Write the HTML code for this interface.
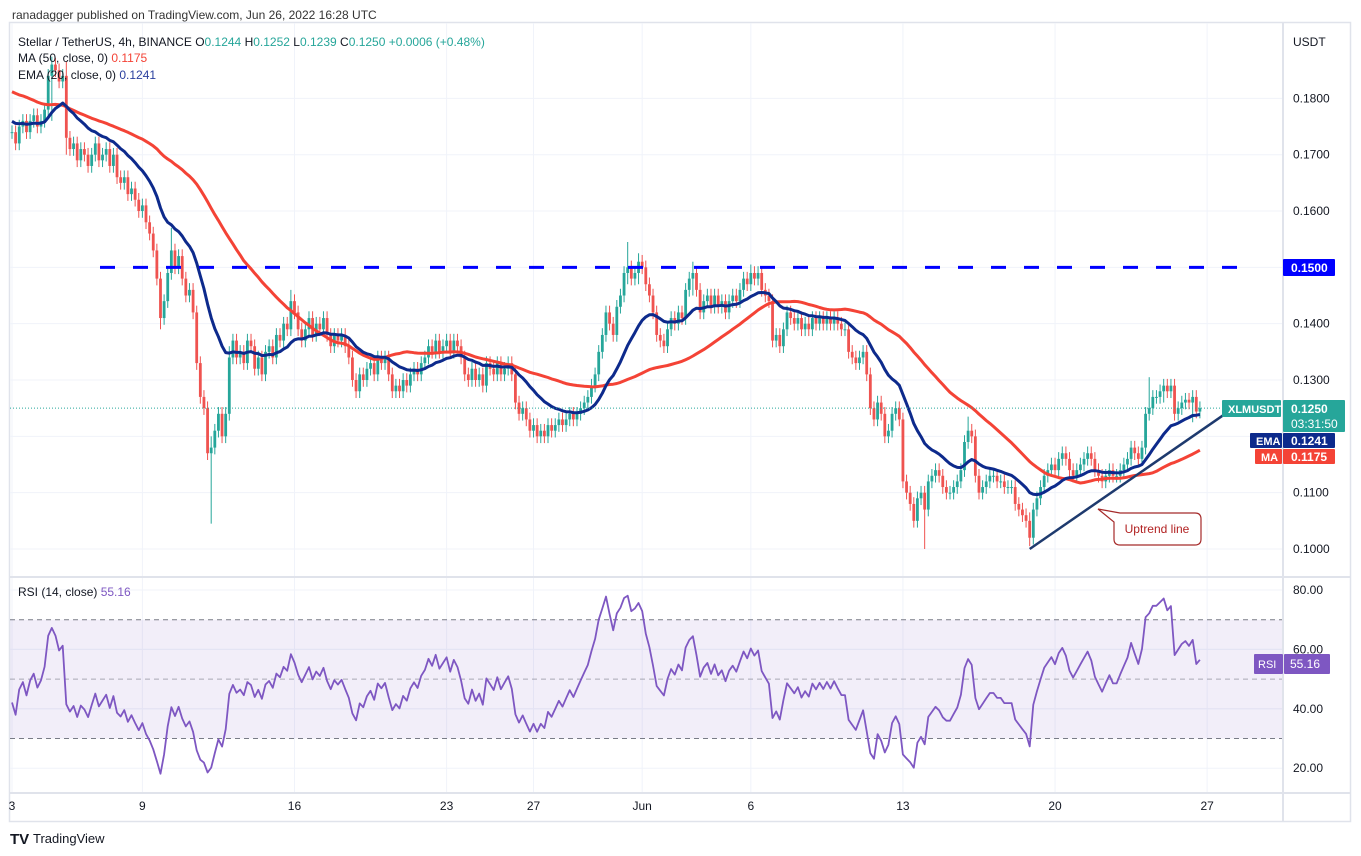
<!DOCTYPE html>
<html><head><meta charset="utf-8"><title>XLMUSDT 4h</title>
<style>
html,body{margin:0;padding:0;background:#fff;}
body{width:1361px;height:856px;overflow:hidden;font-family:"Liberation Sans",sans-serif;}
svg{display:block}
text{font-family:"Liberation Sans",sans-serif;}
</style></head>
<body>
<svg id="chart" width="1361" height="856" viewBox="0 0 1361 856" xmlns="http://www.w3.org/2000/svg">
  <text x="12" y="19" font-size="12" fill="#333">ranadagger published on TradingView.com, Jun 26, 2022 16:28 UTC</text>
  <rect x="9.5" y="22.5" width="1341" height="799" fill="none" stroke="#e0e3eb" stroke-width="1.5"/>
  <g id="grid"></g>
  <g id="rsiBand"></g>
  <g id="candles"></g>
  <g id="lines"></g>
  <g id="overlay"></g>
  <g id="axes"></g>
  <g font-size="12">
    <text x="18" y="46" fill="#131722">Stellar / TetherUS, 4h, BINANCE  <tspan fill="#131722">O</tspan><tspan fill="#26a69a">0.1244</tspan> <tspan fill="#131722">H</tspan><tspan fill="#26a69a">0.1252</tspan> <tspan fill="#131722">L</tspan><tspan fill="#26a69a">0.1239</tspan> <tspan fill="#131722">C</tspan><tspan fill="#26a69a">0.1250 +0.0006 (+0.48%)</tspan></text>
    <text x="18" y="62" fill="#131722">MA (50, close, 0) <tspan fill="#f44336">0.1175</tspan></text>
    <text x="18" y="79" fill="#131722">EMA (20, close, 0) <tspan fill="#2a3f9e">0.1241</tspan></text>
    <text x="18" y="596" fill="#131722">RSI (14, close) <tspan fill="#7e57c2">55.16</tspan></text>
  </g>
  <g>
    <text x="10" y="844" font-size="15" font-weight="bold" fill="#131722">TV</text>
    <text x="33" y="843" font-size="13" fill="#131722">TradingView</text>
  </g>
</svg>
<script>
const preCloses = [0.186,0.188,0.185,0.187,0.190,0.189,0.191,0.188,0.186,0.187,0.185,0.184,0.186,0.188,0.187,0.189,0.186,0.184,0.185,0.183,0.182,0.184,0.183,0.181,0.180,0.182,0.183,0.181,0.179,0.180,0.178,0.177,0.179,0.178,0.176,0.175,0.177,0.176,0.174,0.175,0.176,0.174,0.173,0.175,0.176,0.174,0.173,0.175,0.174];
const closes = [
0.174,0.172,0.175,0.176,0.174,0.176,0.177,0.175,0.176,0.178,0.184,0.186,0.185,0.183,0.184,0.173,0.171,0.172,0.169,0.171,
0.170,0.168,0.170,0.172,0.169,0.170,0.171,0.168,0.170,0.166,0.165,0.166,0.163,0.164,0.162,0.160,0.161,0.158,0.156,0.153,
0.148,0.141,0.144,0.149,0.153,0.150,0.152,0.148,0.145,0.146,0.142,0.133,0.127,0.125,0.117,0.118,0.121,0.124,0.120,0.124,
0.134,0.137,0.134,0.135,0.133,0.137,0.136,0.132,0.134,0.131,0.135,0.136,0.134,0.138,0.137,0.140,0.139,0.144,0.142,0.139,
0.137,0.139,0.141,0.138,0.140,0.139,0.141,0.138,0.136,0.138,0.137,0.138,0.136,0.134,0.130,0.128,0.131,0.130,0.132,0.133,
0.131,0.134,0.133,0.134,0.131,0.128,0.129,0.128,0.130,0.129,0.131,0.132,0.131,0.133,0.134,0.136,0.135,0.137,0.135,0.136,
0.137,0.135,0.137,0.136,0.134,0.131,0.130,0.132,0.130,0.131,0.129,0.133,0.132,0.131,0.133,0.131,0.132,0.133,0.131,0.126,
0.124,0.125,0.123,0.121,0.122,0.120,0.121,0.120,0.122,0.121,0.122,0.123,0.122,0.123,0.124,0.123,0.124,0.125,0.126,0.127,
0.129,0.131,0.135,0.138,0.142,0.140,0.138,0.143,0.145,0.149,0.150,0.148,0.149,0.151,0.150,0.147,0.145,0.142,0.138,0.137,
0.136,0.139,0.141,0.140,0.142,0.141,0.146,0.148,0.149,0.146,0.142,0.144,0.145,0.143,0.145,0.143,0.144,0.142,0.144,0.145,
0.144,0.146,0.148,0.147,0.149,0.148,0.149,0.146,0.145,0.144,0.137,0.138,0.136,0.139,0.142,0.141,0.140,0.141,0.139,0.140,
0.139,0.141,0.140,0.141,0.140,0.141,0.140,0.141,0.140,0.139,0.139,0.135,0.134,0.133,0.134,0.135,0.131,0.125,0.123,0.126,
0.124,0.120,0.121,0.124,0.125,0.123,0.112,0.110,0.108,0.105,0.109,0.110,0.107,0.112,0.113,0.114,0.113,0.111,0.110,0.110,
0.111,0.112,0.114,0.119,0.121,0.120,0.113,0.110,0.111,0.112,0.113,0.113,0.112,0.112,0.111,0.111,0.111,0.108,0.107,0.106,
0.105,0.102,0.107,0.109,0.111,0.113,0.114,0.115,0.114,0.116,0.117,0.116,0.114,0.113,0.114,0.115,0.116,0.117,0.116,0.114,
0.113,0.112,0.113,0.114,0.113,0.113,0.114,0.115,0.116,0.118,0.117,0.116,0.118,0.124,0.125,0.127,0.127,0.128,0.129,0.128,
0.129,0.124,0.125,0.126,0.1265,0.126,0.127,0.1244,0.125];
// notable wick extremes: candle index, high, low
const wickIdx  = [11,     15,     44,     41,     55,     60,     77,     170,    173,    188,    204,    252,    264,    281,    314,    318,    326];
const wickHigh = [0.1874, 0.1865, 0.1570, 0.1460, 0.1200, 0.1360, 0.1460, 0.1545, 0.1525, 0.1510, 0.1505, 0.1090, 0.1235, 0.1065, 0.1305, 0.1300, 0.1280];
const wickLow  = [0.1760, 0.1700, 0.1480, 0.1390, 0.1045, 0.1230, 0.1400, 0.1470, 0.1470, 0.1450, 0.1460, 0.1000, 0.1180, 0.1005, 0.1230, 0.1260, 0.1225];
const priceTicks = [0.10,0.11,0.12,0.13,0.14,0.15,0.16,0.17,0.18];
const priceTickLabels = ["0.1000","0.1100","0.1200","0.1300","0.1400","0.1500","0.1600","0.1700","0.1800"];
const rsiTicks = [20,40,60,80];
const rsiTickLabels = ["20.00","40.00","60.00","80.00"];
const dateOffsets = [0,6,13,20,24,29,34,41,48,55];
const dateLabels = ["3","9","16","23","27","Jun","6","13","20","27"];
const resistance = 0.15;
const trendStart = [281, 0.1000];
const trendEnd = [335, 0.1240];

const NS = "http://www.w3.org/2000/svg";
const X0 = 12, DAY = 21.73, CW = DAY/6;
const PL = 10, PR = 1283;
const xi = i => X0 + i*CW;
const xd = d => X0 + d*DAY;
const yp = p => 549 - (p-0.10)*5633;
const yr = r => 590 + (80-r)*2.97;
function mk(tag, attrs, parent){const e=document.createElementNS(NS,tag);for(const k in attrs)e.setAttribute(k,attrs[k]);parent.appendChild(e);return e;}

const grid=document.getElementById('grid');
priceTicks.forEach(p=>{const l=mk('line',{x1:PL,x2:PR,y1:yp(p),y2:yp(p),stroke:'#f0f3fa','stroke-width':1},grid);

});
rsiTicks.concat([60,40]).forEach(r=>{const l=mk('line',{x1:PL,x2:PR,y1:yr(r),y2:yr(r),stroke:'#f0f3fa','stroke-width':1},grid);

});
dateOffsets.forEach(d=>{const l=mk('line',{x1:xd(d),x2:xd(d),y1:23,y2:793,stroke:'#f0f3fa','stroke-width':1},grid);

});

const axes=document.getElementById('axes');
[[PL,577,1350,577],[PL,793,1350,793],[PR,23,PR,822]].forEach(s=>{const l=mk('line',{x1:s[0],y1:s[1],x2:s[2],y2:s[3],stroke:'#e0e3eb','stroke-width':2},axes);

});

const band=document.getElementById('rsiBand');
const br=mk('rect',{x:PL,y:yr(70),width:PR-PL,height:yr(30)-yr(70),fill:'rgba(126,87,194,0.1)'},band);


[70,50,30].forEach(r=>{const l=mk('line',{x1:PL,x2:PR,y1:yr(r),y2:yr(r),stroke:'#787b86','stroke-width':1,'stroke-dasharray':'5 4',opacity:r==50?0.6:1},band);

});

const cg=document.getElementById('candles');
closes.forEach((c,i)=>{
  const o = i===0 ? preCloses[preCloses.length-1] : closes[i-1];
  const up = c>=o;
  const col = up?'#26a69a':'#ef5350';
  let h=Math.max(o,c)+0.0012, l=Math.min(o,c)-0.0012;
  const k=wickIdx.indexOf(i);
  if(k>=0){h=Math.max(h,wickHigh[k]);l=Math.min(l,wickLow[k]);}
  const x=xi(i);
  const w=mk('line',{x1:x,x2:x,y1:yp(h),y2:yp(l),stroke:col,'stroke-width':1},cg);
  
  
  const top=yp(Math.max(o,c)), bot=yp(Math.min(o,c));
  const b=mk('rect',{x:x-1.4,y:top,width:2.8,height:Math.max(1,bot-top),fill:col},cg);
  
  
});

const all=preCloses.concat(closes), P=preCloses.length;
let ema=all[0]; const a=2/21; const emaV=[], maV=[], rsiV=[];
let ag=0, al=0;
for(let j=0;j<all.length;j++){
  if(j>0) ema = all[j]*a + ema*(1-a);
  const s=all.slice(Math.max(0,j-49),j+1); const ma=s.reduce((p,q)=>p+q,0)/s.length;
  if(j>0){const d=all[j]-all[j-1]; const g=Math.max(d,0), ls=Math.max(-d,0);
    if(j<=14){ag+=g/14;al+=ls/14;} else {ag=(ag*13+g)/14; al=(al*13+ls)/14;}}
  if(j>=P){emaV.push(ema);maV.push(ma);rsiV.push(al===0?100:100-100/(1+ag/al));}
}
const lg=document.getElementById('lines');
function path(vals,fy,col,w,name){const d=vals.map((v,i)=>(i?'L':'M')+xi(i).toFixed(1)+','+fy(v).toFixed(1)).join('');
  const p=mk('path',{d:d,fill:'none',stroke:col,'stroke-width':w,'stroke-linejoin':'round'},lg);
  
  }
path(maV,yp,'#f44336',3,'ma50-line');
path(emaV,yp,'#0d2a8c',3,'ema20-line');
path(rsiV,yr,'#7e57c2',1.8,'rsi-line');

const ov=document.getElementById('overlay');
const rl=mk('line',{x1:100,x2:1250,y1:yp(resistance),y2:yp(resistance),stroke:'#0000ff','stroke-width':3,'stroke-dasharray':'15 18'},ov);


const lastC=closes[closes.length-1];
const cl=mk('line',{x1:PL,x2:PR,y1:yp(lastC),y2:yp(lastC),stroke:'#26a69a','stroke-width':1,'stroke-dasharray':'1 2'},ov);


const tl=mk('line',{x1:xi(trendStart[0]),y1:yp(trendStart[1]),x2:xi(trendEnd[0]),y2:yp(trendEnd[1]),stroke:'#1e3a6e','stroke-width':2.5},ov);


const co=mk('path',{d:'M1098,509 L1120,513 L1195,513 Q1201,513 1201,519 L1201,539 Q1201,545 1195,545 L1120,545 Q1114,545 1114,539 L1114,522 Z',fill:'#fff',stroke:'#a52a2a','stroke-width':1.2},ov);


const ct=mk('text',{x:1157,y:533,'font-size':12,fill:'#b22222','text-anchor':'middle'},ov);
ct.textContent='Uptrend line';



function txt(x,y,s,attrs,name,parent){const t=mk('text',Object.assign({x:x,y:y,'font-size':12,fill:'#131722'},attrs||{}),parent||axes);t.textContent=s;
  
  return t;}
txt(1293,46,'USDT',{},'price-axis-unit');
priceTicks.forEach((p,i)=>{ if(p===0.15 || p===0.12) return; txt(1293,yp(p)+4,priceTickLabels[i],{},'price-tick-label');});
rsiTicks.forEach((r,i)=>txt(1293,yr(r)+4,rsiTickLabels[i],{},'rsi-tick-label'));
dateOffsets.forEach((d,i)=>txt(xd(d),810,dateLabels[i],{'text-anchor':'middle'},'date-tick-label'));

function box(x,y,w,h,fill,name){const r=mk('rect',{x:x,y:y,width:w,height:h,fill:fill,rx:1},axes);
  
  }
box(1283,259,52,17,'#0000ff','resistance-price-tag');
txt(1291,272,'0.1500',{fill:'#fff','font-weight':'bold'},'resistance-price-text');
box(1222,400,59,17,'#26a69a','symbol-tag');
txt(1228,413,'XLMUSDT',{fill:'#fff','font-size':11,'font-weight':'bold'},'symbol-tag-text');
box(1283,400,62,32,'#26a69a','last-price-tag');
txt(1291,413,'0.1250',{fill:'#fff','font-weight':'bold'},'last-price-text');
txt(1291,428,'03:31:50',{fill:'#fff'},'countdown-text');
box(1250,433,32,15,'#0d2a8c','ema-tag');
txt(1256,445,'EMA',{fill:'#fff','font-size':11,'font-weight':'bold'},'ema-tag-text');
box(1283,433,52,15,'#0d2a8c','ema-value-tag');
txt(1291,445,'0.1241',{fill:'#fff','font-weight':'bold'},'ema-value-text');
box(1255,449,27,15,'#f44336','ma-tag');
txt(1261,461,'MA',{fill:'#fff','font-size':11,'font-weight':'bold'},'ma-tag-text');
box(1283,449,52,15,'#f44336','ma-value-tag');
txt(1291,461,'0.1175',{fill:'#fff','font-weight':'bold'},'ma-value-text');
box(1254,654,29,20,'#7e57c2','rsi-tag');
txt(1258,668,'RSI',{fill:'#fff','font-size':11},'rsi-tag-text');
box(1284,654,46,20,'#7e57c2','rsi-value-tag');
txt(1290,668,'55.16',{fill:'#fff'},'rsi-value-text');
</script>
</body></html>
